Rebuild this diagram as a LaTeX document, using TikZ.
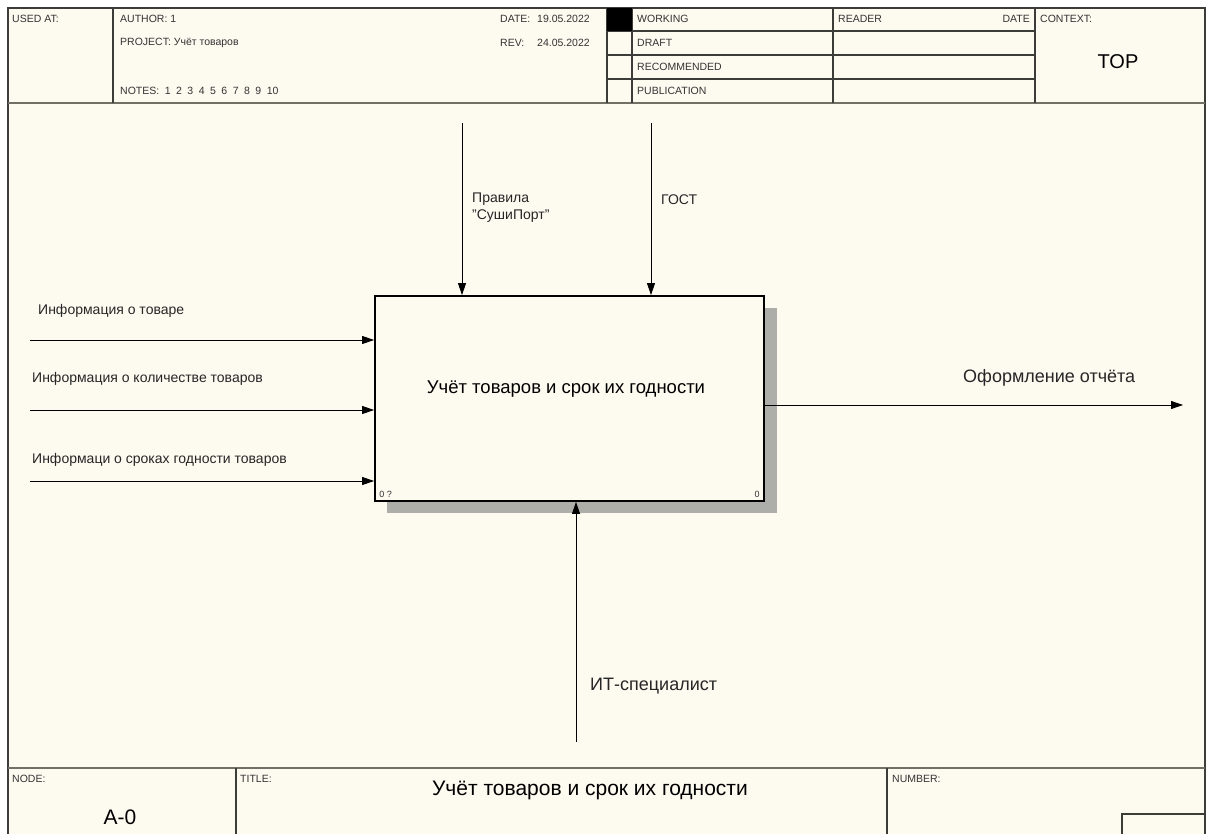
\documentclass[tikz,border=0pt]{standalone}
\usepackage{fontspec}
\setmainfont{Liberation Sans}
\usetikzlibrary{arrows.meta}
\definecolor{paper}{HTML}{FDFAF0}
\definecolor{gridc}{HTML}{3C3C38}
\definecolor{rulec}{HTML}{707066}
\definecolor{shdwc}{HTML}{ADADA9}
\begin{document}
\begin{tikzpicture}[x=1pt, y=-1pt, every node/.style={inner sep=0pt},
	frm/.style={draw=gridc, line width=1.3pt},
	bigrule/.style={draw=rulec, line width=2.4pt},
	hdr/.style={anchor=west, font=\fontsize{10.5}{12}\selectfont, text=black!80},
	lab/.style={anchor=west, font=\fontsize{14}{17}\selectfont, text=black!85},
	biglab/.style={anchor=west, font=\fontsize{18}{21}\selectfont, text=black!85},
	arr/.style={-{Triangle[length=12pt, width=8pt]}, line width=0.8pt},
	box/.style={draw=black, line width=1.8pt, fill=paper, minimum width=389pt, minimum height=205pt}]
	\useasboundingbox (0,0) rectangle (1207,834);
	% 纸面
	\fill[white] (0,0) rectangle (1207,834);
	\fill[paper] (8,8) rectangle (1205,834);
	\draw[frm] (8,834) -- (8,8) -- (1205,8) -- (1205,834);
	
	% 表头
	\draw[bigrule] (8,103) -- (1205,103);
	\foreach \xx in {113,607,632,833,1035}
	\draw[frm] (\xx,8) -- (\xx,103);
	\foreach \yy in {31,55,79}
	\draw[frm] (607,\yy) -- (1035,\yy);
	\fill[black] (607,8) rectangle (632,31);
	\node[hdr] (usedat) at (12,19) {USED AT:};
	\node[hdr] (author) at (120,19) {AUTHOR:\ 1};
	\node[hdr] (project) at (120,43) {PROJECT:\ Учёт товаров};
	\node[hdr] (notes) at (120,91) {NOTES:\hspace{5.5pt}1\hspace{5.5pt}2\hspace{5.5pt}3\hspace{5.5pt}4\hspace{5.5pt}5\hspace{5.5pt}6\hspace{5.5pt}7\hspace{5.5pt}8\hspace{5.5pt}9\hspace{5.5pt}10};
	\node[hdr] (date) at (500,19) {DATE:};
	\node[hdr] (dateval) at (537,19) {19.05.2022};
	\node[hdr] (rev) at (500,43) {REV:};
	\node[hdr] (revval) at (537,43) {24.05.2022};
	\node[hdr] (working) at (637,19) {WORKING};
	\node[hdr] (draft) at (637,43) {DRAFT};
	\node[hdr] (recomm) at (637,67) {RECOMMENDED};
	\node[hdr] (public) at (637,91) {PUBLICATION};
	\node[hdr] (reader) at (838,19) {READER};
	\node[hdr, anchor=east] (rdate) at (1030,19) {DATE};
	\node[hdr] (context) at (1040,19) {CONTEXT:};
	\node[font=\fontsize{20}{24}\selectfont] (top) at (1118,62) {TOP};
	
	% 底栏
	\draw[bigrule] (8,768) -- (1205,768);
	\draw[frm] (236,768) -- (236,834);
	\draw[frm] (887,768) -- (887,834);
	\draw[frm] (1122,834) -- (1122,814) -- (1205,814);
	\node[hdr] (nodelbl) at (12,779) {NODE:};
	\node[font=\fontsize{21}{24}\selectfont] (nodeid) at (120,817) {A-0};
	\node[hdr] (titlelbl) at (240,779) {TITLE:};
	\node[font=\fontsize{21}{24}\selectfont] (title) at (590,790) {Учёт товаров и срок их годности};
	\node[hdr] (numlbl) at (892,779) {NUMBER:};
	
	% 功能块及阴影
	\fill[shdwc] (387,308) rectangle (777,513);
	\node[box] (func) at (569.5,398.5) {};
	\node[font=\fontsize{18.5}{22}\selectfont] (functxt) at (566,389) {Учёт товаров и срок их годности};
	\node[hdr, font=\fontsize{9}{10}\selectfont, anchor=south west] (fnum) at ([shift={(5,-4)}]func.south west) {0 ?};
	\node[hdr, font=\fontsize{9}{10}\selectfont, anchor=south east] (fnode) at ([shift={(-5,-4)}]func.south east) {0};
	
	% 输入
	\coordinate (in1) at (30,340);
	\coordinate (in2) at (30,410);
	\coordinate (in3) at (30,481);
	\draw[arr] (in1) -- (in1 -| func.west);
	\draw[arr] (in2) -- (in2 -| func.west);
	\draw[arr] (in3) -- (in3 -| func.west);
	\node[lab] (in1lab) at (38,311) {Информация о товаре};
	\node[lab] (in2lab) at (32,379) {Информация о количестве товаров};
	\node[lab] (in3lab) at (32,460) {Информаци о сроках годности товаров};
	
	% 控制
	\coordinate (ctl1) at (462,123);
	\coordinate (ctl2) at (651,123);
	\draw[arr] (ctl1) -- (ctl1 |- func.north);
	\draw[arr] (ctl2) -- (ctl2 |- func.north);
	\node[lab, align=left] (ctl1lab) at (472,208) {Правила\\\char34 СушиПорт\char34};
	\node[lab] (ctl2lab) at (661,200) {ГОСТ};
	
	% 输出
	\coordinate (out) at (1183,405);
	\draw[arr] (func.east |- out) -- (out);
	\node[biglab] (outlab) at (963,378) {Оформление отчёта};
	
	% 机制
	\coordinate (mech) at (576,742);
	\draw[arr] (mech) -- (mech |- func.south);
	\node[biglab] (mechlab) at (590,686) {ИТ-специалист};
\end{tikzpicture}
\end{document}
